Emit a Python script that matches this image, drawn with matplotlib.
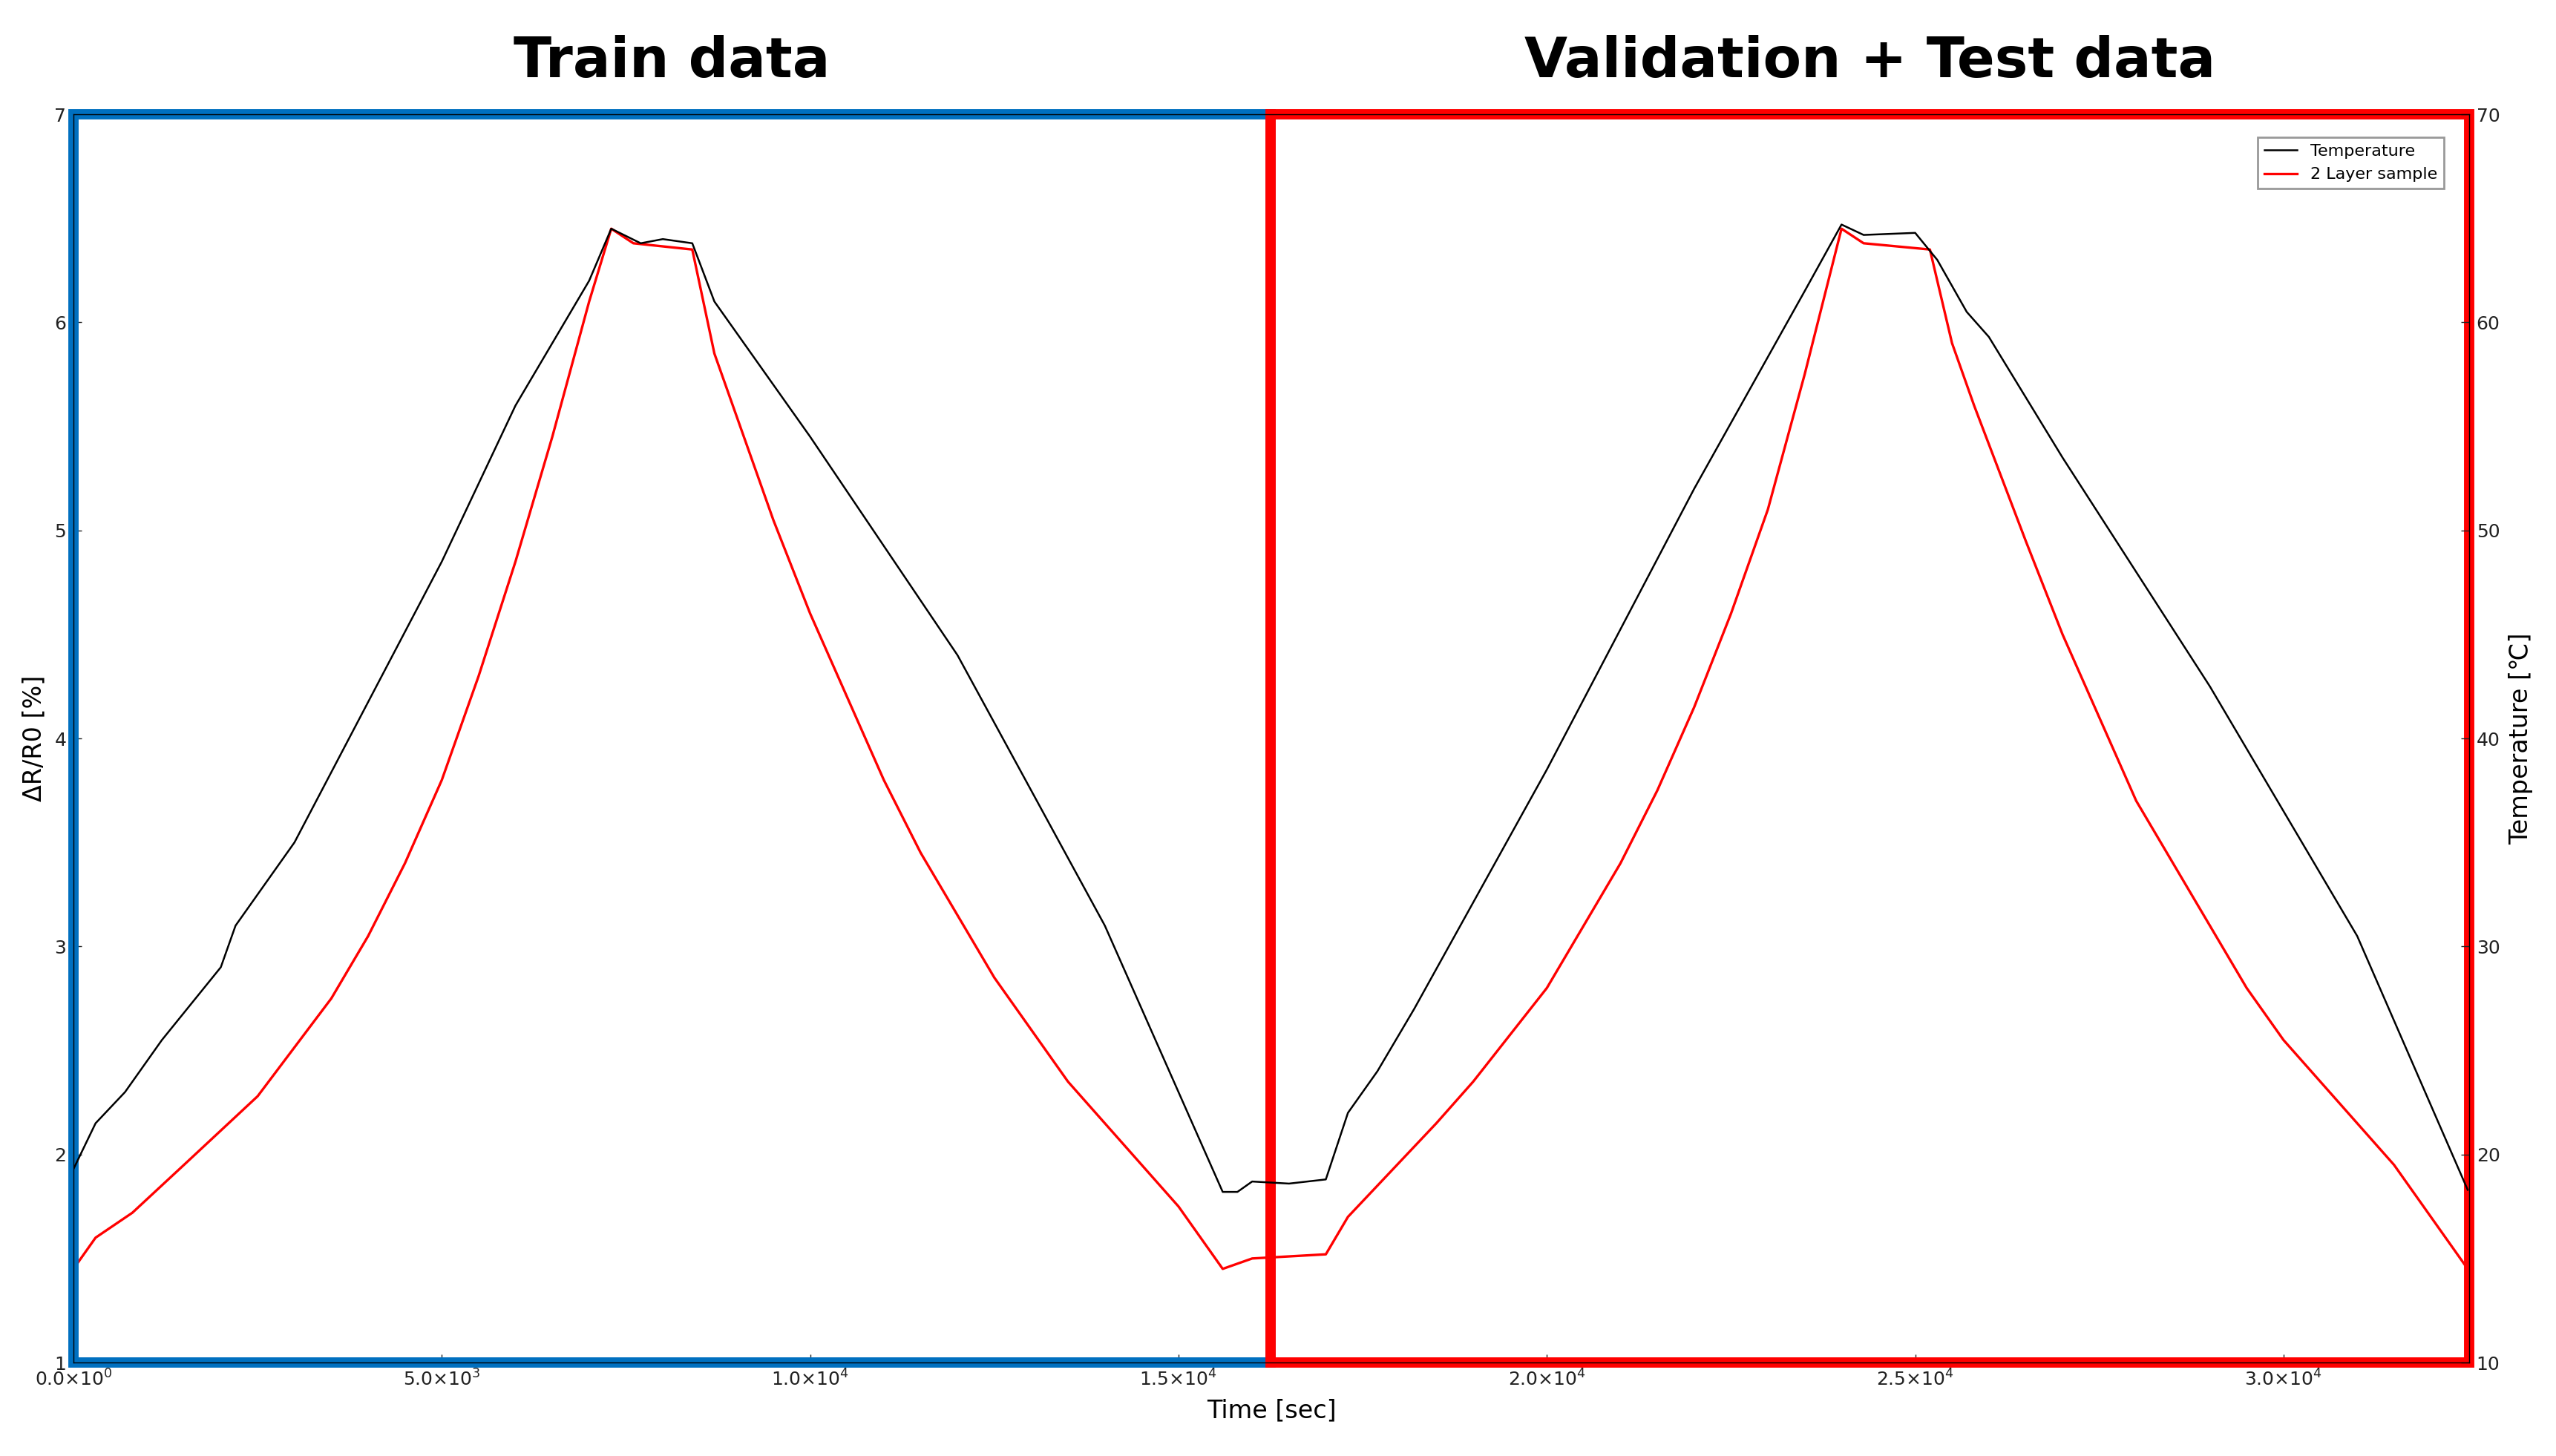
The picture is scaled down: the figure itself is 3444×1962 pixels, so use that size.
import matplotlib.pyplot as plt
from matplotlib.patches import Rectangle

# temperature read in left-axis units (T = 10 * L)
t_time = [0, 300, 700, 1200, 2000, 2200, 3000, 5000, 6000, 7000, 7300, 7700, 8000, 8400, 8700, 9000,
          10000, 12000, 14000, 15600, 15800, 16000, 16500, 17000, 17300, 17700, 18200, 20000, 22000,
          23500, 24000, 24300, 25000, 25300, 25700, 26000, 27000, 29000, 31000, 32500]
t_left = [1.93, 2.15, 2.3, 2.55, 2.9, 3.1, 3.5, 4.85, 5.6, 6.2, 6.45, 6.38, 6.4, 6.38, 6.1, 5.95,
          5.45, 4.4, 3.1, 1.82, 1.82, 1.87, 1.86, 1.88, 2.2, 2.4, 2.7, 3.85, 5.2,
          6.15, 6.47, 6.42, 6.43, 6.3, 6.05, 5.93, 5.35, 4.25, 3.05, 1.83]
temperature = [10 * v for v in t_left]

r_time = [0, 300, 800, 1500, 2500, 3500, 4000, 4500, 5000, 5500, 6000, 6500, 7000, 7300, 7600,
          8400, 8700, 9000, 9500, 10000, 10500, 11000, 11500, 12000, 12500, 13000, 13500, 14000,
          14500, 15000, 15600, 16000, 17000, 17300, 17700, 18500, 19000, 20000, 20500, 21000,
          21500, 22000, 22500, 23000, 23500, 24000, 24300, 25200, 25500, 25800, 26500, 27000,
          27500, 28000, 28500, 29000, 29500, 30000, 30500, 31000, 31500, 32000, 32500]
resistance = [1.45, 1.6, 1.72, 1.95, 2.28, 2.75, 3.05, 3.4, 3.8, 4.3, 4.85, 5.45, 6.1, 6.45, 6.38,
              6.35, 5.85, 5.55, 5.05, 4.6, 4.2, 3.8, 3.45, 3.15, 2.85, 2.6, 2.35, 2.15,
              1.95, 1.75, 1.45, 1.5, 1.52, 1.7, 1.85, 2.15, 2.35, 2.8, 3.1, 3.4,
              3.75, 4.15, 4.6, 5.1, 5.75, 6.45, 6.38, 6.35, 5.9, 5.6, 4.95, 4.5,
              4.1, 3.7, 3.4, 3.1, 2.8, 2.55, 2.35, 2.15, 1.95, 1.7, 1.45]

xticks = [0, 5000, 10000, 15000, 20000, 25000, 30000]
xlabels = [r'$0.0{\times}10^0$', r'$5.0{\times}10^3$', r'$1.0{\times}10^4$', r'$1.5{\times}10^4$',
           r'$2.0{\times}10^4$', r'$2.5{\times}10^4$', r'$3.0{\times}10^4$']
split = 16250
xmax = 32520

fig = plt.figure(figsize=(17.22, 9.81), dpi=200)
ax = fig.add_axes([99 / 3444, 1 - 1836 / 1962, (3327 - 99) / 3444, (1836 - 154) / 1962])
ax2 = ax.twinx()

l1, = ax2.plot(t_time, temperature, color='black', lw=0.9, label='Temperature')
l2, = ax.plot(r_time, resistance, color='red', lw=1.2, label='2 Layer sample')

ax.set_xlim(0, xmax)
ax.set_ylim(1, 7)
ax2.set_ylim(10, 70)
ax.set_xticks(xticks)
ax.set_xticklabels(xlabels)
for a in (ax, ax2):
    a.tick_params(direction='in', labelsize=9, length=4, width=0.5, colors='#222222')
    for s in a.spines.values():
        s.set_linewidth(0.5)
ax.set_ylabel('ΔR/R0 [%]', fontsize=12)
ax2.set_ylabel('Temperature [℃]', fontsize=12)
ax.set_xlabel('Time [sec]', fontsize=12)

ax.legend([l1, l2], ['Temperature', '2 Layer sample'], loc='upper right', fontsize=8,
          fancybox=False, edgecolor='gray', bbox_to_anchor=(0.993, 0.988))

ax.add_patch(Rectangle((0, 1), split, 6, fill=False, edgecolor='#0070C0', lw=5,
                       clip_on=False, zorder=5))
ax.add_patch(Rectangle((split, 1), xmax - split, 6, fill=False, edgecolor='red', lw=5,
                       clip_on=False, zorder=5))

ax.text(split / 2, 7.12, 'Train data', ha='center', va='bottom', fontsize=27, fontweight='bold')
ax.text((split + xmax) / 2, 7.12, 'Validation + Test data', ha='center', va='bottom',
        fontsize=27, fontweight='bold')

fig.savefig('out.png', dpi=200)
